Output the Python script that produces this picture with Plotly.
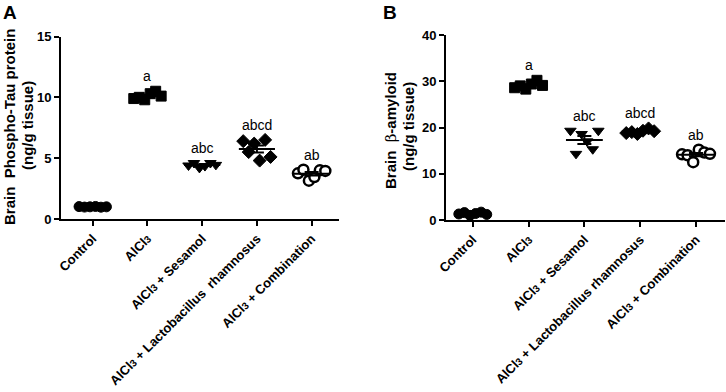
import numpy as np
import plotly.graph_objects as go

SUB3 = "<span style='font-size:10px'>3</span>"
categories = ["Control", "AlCl" + SUB3, "AlCl" + SUB3 + " + Sesamol",
              "AlCl" + SUB3 + " + Lactobacillus&nbsp; rhamnosus", "AlCl" + SUB3 + " + Combination"]
categories_b = ["Control", "AlCl" + SUB3, "AlCl" + SUB3 + " + Sesamol",
                "AlCl" + SUB3 + " + Lactobacillus rhamnosus", "AlCl" + SUB3 + " + Combination"]

# Panel A: Brain Phospho-Tau protein (ng/g tissue)
tau_control = [1.02, 0.98, 1.00, 1.03, 0.97, 1.00]
tau_alcl3 = [9.9, 10.0, 9.8, 10.3, 10.5, 10.1]
tau_sesamol = [4.40, 4.60, 4.20, 4.35, 4.60, 4.45]
tau_lr = [6.4, 5.5, 6.2, 4.8, 6.5, 5.1]
tau_comb = [3.75, 4.05, 3.15, 3.45, 4.00, 3.95]

# Panel B: Brain beta-amyloid (ng/g tissue)
ab_control = [1.3, 1.6, 1.0, 1.4, 1.7, 1.2]
ab_alcl3 = [28.6, 29.0, 28.3, 29.4, 30.2, 29.1]
ab_sesamol = [19.3, 14.3, 18.6, 17.0, 15.3, 19.3]
ab_lr = [18.8, 19.0, 18.6, 19.3, 19.8, 19.2]
ab_comb = [14.2, 14.0, 12.5, 15.2, 14.6, 14.3]

sig_letters = ["", "a", "abc", "abcd", "ab"]

tau_groups = [tau_control, tau_alcl3, tau_sesamol, tau_lr, tau_comb]
ab_groups = [ab_control, ab_alcl3, ab_sesamol, ab_lr, ab_comb]

# styling
jitter = [-0.25, -0.15, -0.05, 0.05, 0.15, 0.25]
symbols = ["circle", "square", "triangle-down", "diamond", "circle"]
fills = ["black", "black", "black", "black", "white"]
sizes = [10, 10, 10, 10, 10]
linew = [1, 1, 1, 1, 2.5]
FONT = "Arial, Liberation Sans, sans-serif"

fig = go.Figure()


def add_panel(groups, xa, ya):
    for i, vals in enumerate(groups):
        v = np.array(vals)
        m = v.mean()
        sem = v.std(ddof=1) / np.sqrt(len(v))
        fig.add_trace(go.Scatter(
            x=[i + j for j in jitter], y=vals, mode="markers",
            marker=dict(symbol=symbols[i], size=sizes[i], color=fills[i],
                        line=dict(color="black", width=linew[i])),
            xaxis=xa, yaxis=ya, showlegend=False, hoverinfo="y"))
        fig.add_trace(go.Scatter(
            x=[i - 0.33, i + 0.33], y=[m, m], mode="lines",
            line=dict(color="black", width=2),
            xaxis=xa, yaxis=ya, showlegend=False, hoverinfo="skip"))
        fig.add_trace(go.Scatter(
            x=[i], y=[m], mode="markers", marker=dict(size=1, color="black", opacity=0),
            error_y=dict(type="data", array=[sem], visible=True, color="black",
                         thickness=2, width=7),
            xaxis=xa, yaxis=ya, showlegend=False, hoverinfo="skip"))
        if sig_letters[i]:
            fig.add_annotation(x=i, y=max(vals), xref=xa, yref=ya,
                               text=sig_letters[i], showarrow=False,
                               yanchor="bottom", yshift=5,
                               font=dict(family=FONT, size=14, color="black"))


add_panel(tau_groups, "x", "y")
add_panel(ab_groups, "x2", "y2")

W, H = 726, 392


def px(x):
    return x / W


def py(y):
    return 1 - y / H


axis_common = dict(showline=True, linewidth=2, linecolor="black", ticks="outside",
                   ticklen=5, tickwidth=2, tickcolor="black", showgrid=False,
                   zeroline=False)
xtickfont = dict(family=FONT, size=13, color="black", weight="bold")
ytickfont = dict(family=FONT, size=13, color="black", weight="bold")

fig.update_layout(
    width=W, height=H, autosize=False,
    margin=dict(l=0, r=0, t=0, b=0, autoexpand=False),
    paper_bgcolor="white", plot_bgcolor="white",
    xaxis=dict(domain=[px(61), px(339)], range=[-0.58, 4.5], tickmode="array",
               tickvals=list(range(5)), ticktext=categories, tickangle=-45,
               anchor="y", tickfont=xtickfont, **axis_common),
    yaxis=dict(domain=[py(219), py(36.5)], range=[0, 15], tickvals=[0, 5, 10, 15],
               anchor="x", tickfont=ytickfont, **axis_common),
    xaxis2=dict(domain=[px(446), px(725)], range=[-0.48, 4.52], tickmode="array",
                tickvals=list(range(5)), ticktext=categories_b, tickangle=-45,
                anchor="y2", tickfont=xtickfont, **axis_common),
    yaxis2=dict(domain=[py(220), py(35)], range=[0, 40], tickvals=[0, 10, 20, 30, 40],
                anchor="x2", tickfont=ytickfont, **axis_common),
)

bold15 = dict(family=FONT, size=15, color="black", weight="bold")
# y-axis titles
fig.add_annotation(x=px(9), y=py(127), xref="paper", yref="paper",
                   text="Brain  Phospho-Tau protein", textangle=-90, showarrow=False,
                   xanchor="center", yanchor="middle", font=bold15)
fig.add_annotation(x=px(28), y=py(126), xref="paper", yref="paper",
                   text="(ng/g tissue)", textangle=-90, showarrow=False,
                   xanchor="center", yanchor="middle", font=bold15)
fig.add_annotation(x=px(391), y=py(130), xref="paper", yref="paper",
                   text="Brain  <span style='font-weight:normal;font-family:DejaVu Serif'>β</span>-amyloid",
                   textangle=-90, showarrow=False,
                   xanchor="center", yanchor="middle", font=bold15)
fig.add_annotation(x=px(408), y=py(127), xref="paper", yref="paper",
                   text="(ng/g tissue)", textangle=-90, showarrow=False,
                   xanchor="center", yanchor="middle", font=bold15)
# panel letters
fig.add_annotation(x=px(10), y=py(12), xref="paper", yref="paper", text="A",
                   showarrow=False, xanchor="center", yanchor="middle",
                   font=dict(family=FONT, size=19, color="black", weight="bold"))
fig.add_annotation(x=px(390), y=py(12), xref="paper", yref="paper", text="B",
                   showarrow=False, xanchor="center", yanchor="middle",
                   font=dict(family=FONT, size=19, color="black", weight="bold"))

fig.write_html("out.html", config={"displayModeBar": False},
               post_script="document.body.style.margin='0px';")
